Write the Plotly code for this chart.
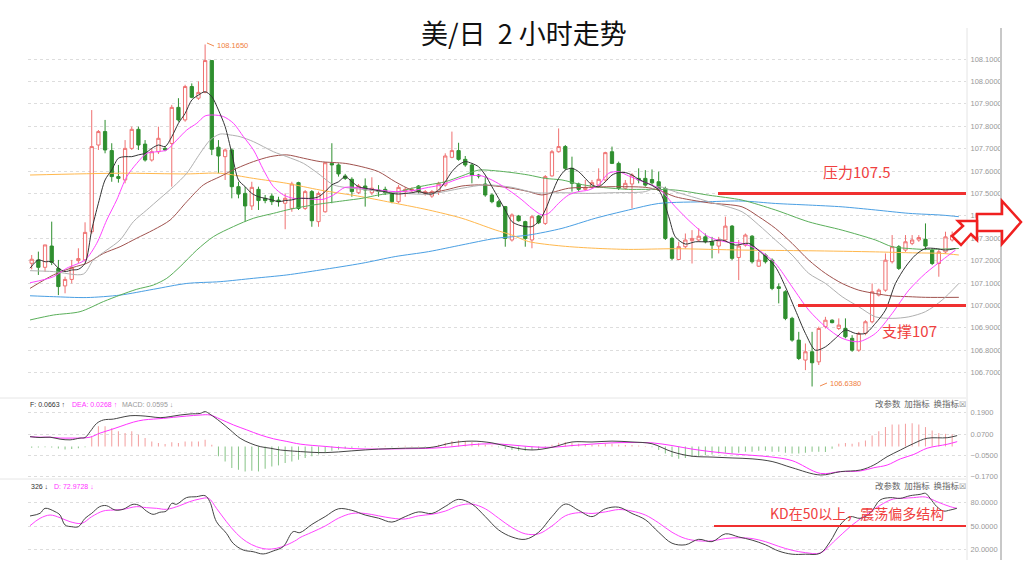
import plotly.graph_objects as go

W, H = 1024, 565

# ---------------- 2-hour candles (USD/JPY) ----------------
opens = [107.188,107.203,107.170,107.265,107.165,107.087,107.116,107.200,107.203,107.329,
         107.716,107.776,107.691,107.575,107.560,107.701,107.786,107.720,107.649,107.686,
         107.701,107.723,107.884,107.828,107.977,107.925,107.951,108.093,107.706,107.664,
         107.694,107.530,107.500,107.444,107.518,107.478,107.488,107.470,107.456,107.433,
         107.548,107.433,107.508,107.374,107.418,107.634,107.627,107.578,107.563,107.503,
         107.533,107.503,107.515,107.518,107.500,107.463,107.508,107.512,107.533,107.500,
         107.488,107.508,107.537,107.661,107.691,107.652,107.627,107.582,107.542,107.493,
         107.463,107.441,107.292,107.399,107.374,107.292,107.399,107.366,107.578,107.686,
         107.709,107.612,107.542,107.518,107.527,107.537,107.560,107.686,107.634,107.523,
         107.542,107.567,107.567,107.562,107.552,107.522,107.299,107.205,107.262,107.289,
         107.292,107.306,107.284,107.265,107.292,107.354,107.214,107.269,107.309,107.175,
         107.225,107.202,107.083,107.061,106.942,106.845,106.756,106.793,106.748,106.905,
         106.934,106.897,106.897,106.853,106.800,106.875,106.927,107.046,107.068,107.195,
         107.262,107.247,107.277,107.292,107.295,107.247,107.187,107.239,107.292]
highs = [107.225,107.240,107.270,107.374,107.203,107.128,107.203,107.255,107.371,107.872,
         107.783,107.828,107.724,107.627,107.738,107.798,107.798,107.738,107.701,107.798,
         107.710,107.895,107.925,107.985,107.991,108.000,108.165,108.093,107.738,107.701,
         107.701,107.552,107.530,107.552,107.530,107.493,107.500,107.485,107.500,107.552,
         107.552,107.515,107.515,107.508,107.637,107.724,107.634,107.587,107.572,107.542,
         107.567,107.572,107.537,107.530,107.508,107.537,107.527,107.527,107.537,107.515,
         107.515,107.552,107.679,107.776,107.726,107.667,107.634,107.587,107.575,107.500,
         107.470,107.444,107.411,107.404,107.378,107.404,107.404,107.582,107.694,107.790,
         107.716,107.664,107.548,107.560,107.560,107.612,107.686,107.709,107.642,107.560,
         107.590,107.612,107.604,107.607,107.597,107.530,107.306,107.284,107.321,107.336,
         107.344,107.321,107.306,107.306,107.396,107.359,107.292,107.321,107.314,107.239,
         107.232,107.210,107.098,107.068,106.949,106.882,106.830,106.882,106.905,106.949,
         106.938,106.942,106.942,106.867,106.882,106.934,107.098,107.075,107.232,107.314,
         107.269,107.314,107.314,107.314,107.366,107.254,107.247,107.329,107.330]
lows = [107.161,107.136,107.150,107.180,107.046,107.054,107.098,107.188,107.195,107.319,
        107.694,107.679,107.552,107.548,107.545,107.694,107.694,107.642,107.642,107.676,
        107.688,107.530,107.820,107.820,107.925,107.917,107.947,107.671,107.590,107.560,
        107.478,107.478,107.374,107.426,107.426,107.456,107.448,107.441,107.340,107.418,
        107.426,107.426,107.351,107.351,107.414,107.456,107.575,107.560,107.485,107.497,
        107.441,107.493,107.485,107.493,107.456,107.456,107.485,107.505,107.500,107.490,
        107.480,107.493,107.530,107.657,107.646,107.619,107.545,107.567,107.485,107.456,
        107.438,107.262,107.285,107.374,107.262,107.255,107.363,107.359,107.575,107.682,
        107.604,107.508,107.508,107.515,107.520,107.533,107.552,107.631,107.515,107.518,
        107.433,107.545,107.530,107.537,107.512,107.292,107.202,107.202,107.254,107.187,
        107.284,107.277,107.210,107.232,107.284,107.202,107.113,107.262,107.187,107.172,
        107.187,107.068,107.009,106.934,106.838,106.756,106.711,106.638,106.734,106.897,
        106.920,106.890,106.853,106.793,106.793,106.867,106.920,107.040,107.061,107.187,
        107.158,107.239,107.269,107.284,107.247,107.180,107.128,107.232,107.285]
closes = [107.206,107.170,107.270,107.192,107.084,107.116,107.170,107.209,107.326,107.709,
          107.776,107.694,107.575,107.567,107.701,107.786,107.716,107.649,107.686,107.746,
          107.694,107.884,107.828,107.977,107.929,107.951,108.093,107.697,107.667,107.694,
          107.530,107.497,107.444,107.527,107.468,107.468,107.463,107.463,107.478,107.542,
          107.433,107.508,107.378,107.500,107.637,107.627,107.587,107.567,107.508,107.533,
          107.515,107.523,107.508,107.503,107.463,107.527,107.518,107.518,107.508,107.508,
          107.508,107.545,107.667,107.691,107.652,107.627,107.582,107.578,107.493,107.463,
          107.441,107.299,107.404,107.378,107.299,107.396,107.369,107.575,107.686,107.709,
          107.612,107.545,107.518,107.527,107.548,107.563,107.682,107.634,107.523,107.545,
          107.582,107.560,107.537,107.547,107.515,107.299,107.210,107.262,107.292,107.299,
          107.309,107.284,107.269,107.292,107.354,107.210,107.265,107.314,107.195,107.202,
          107.195,107.076,107.076,106.942,106.845,106.763,106.793,106.744,106.897,106.934,
          106.923,106.912,106.860,106.800,106.875,106.927,107.061,107.068,107.202,107.262,
          107.165,107.284,107.292,107.303,107.265,107.187,107.239,107.306,107.314]

# ---------------- moving averages (bar index, price) ----------------
ma5_x = [-0.25,1,2,3,4,5,6,7,8,9,10,11,12,13,14,15,16,17,18,19,20,21,22,23,24,25,26,27,28,29,30,31,32,33,34,35,36,37,38,39,40,41,42,43,44,45,46,47,48,49,50,51,52,53,54,55,56,57,58,59,60,61,62,63,64,65,66,67,68,69,70,71,72,73,74,75,76,77,78,79,80,81,82,83,84,85,86,87,88,89,90,91,94,95.5,96.5,98,99.5,101.5,103.5,105.5,107.5,109.5,111.5,113,114.5,116,117.5,119,120.5,122,123.5,125,126.5,128,129.5,131,132.5,134,135.5,137,138.5]
ma5_y = [107.166,107.203,107.195,107.195,107.166,107.151,107.158,107.161,107.188,107.337,107.456,107.560,107.605,107.657,107.664,107.664,107.672,107.679,107.701,107.716,107.709,107.753,107.813,107.857,107.917,107.939,107.954,107.932,107.872,107.798,107.679,107.560,107.530,107.500,107.485,107.478,107.471,107.463,107.468,107.471,107.478,107.478,107.478,107.485,107.508,107.538,107.552,107.575,107.552,107.530,107.523,107.518,107.512,107.508,107.500,107.497,107.500,107.503,107.508,107.500,107.497,107.515,107.552,107.597,107.627,107.642,107.634,107.619,107.582,107.530,107.478,107.426,107.374,107.359,107.352,107.352,107.374,107.426,107.500,107.567,107.604,107.612,107.597,107.567,107.538,107.530,107.552,107.582,107.593,107.593,107.582,107.563,107.515,107.396,107.306,107.274,107.284,107.284,107.292,107.269,107.277,107.232,107.172,107.083,106.979,106.875,106.800,106.815,106.853,106.890,106.875,106.875,106.920,106.979,107.098,107.172,107.225,107.254,107.254,107.247,107.254]
ma10_x = [-0.25,3.25,5.25,8,9.75,11.25,12.75,14.25,15.75,17.25,18.75,20.25,21.75,23.25,24.75,26,27.25,28.75,30.25,31.75,33.25,34.75,36.25,37.75,39.25,40.75,42.25,43.75,45.25,47,49.5,52,54.5,57,59.5,61.5,63.5,65.5,67.5,69.5,71.5,73.5,75,76.5,77.5,79,80.5,82,83.5,85,86.5,88,89.5,91,94,96.5,99,101.5,104,106.5,109,111.5,114,116.5,119,121.5,124,126.5,129,131.5,134,136.5,138.5]
ma10_y = [107.101,107.128,107.166,107.203,107.277,107.381,107.471,107.575,107.634,107.679,107.686,107.694,107.738,107.783,107.813,107.846,107.850,107.843,107.813,107.753,107.694,107.605,107.530,107.493,107.478,107.478,107.474,107.474,107.493,107.527,107.523,107.515,107.508,107.512,107.527,107.538,107.560,107.578,107.578,107.552,107.515,107.471,107.433,107.404,107.411,107.456,107.493,107.508,107.515,107.538,107.590,107.597,107.578,107.560,107.522,107.440,107.366,107.306,107.284,107.277,107.247,107.187,107.083,106.979,106.905,106.853,106.838,106.875,106.964,107.068,107.143,107.202,107.247]
ma20_x = [-0.25,3.25,7.75,9.25,11.25,13.25,15.25,17.25,19.25,21.25,23.25,25.25,26.75,28.25,29.75,31.25,33.25,36.25,38.25,40.75,43.25,45.25,49.5,54.5,59.5,64.5,68,72,75.5,79.5,83.5,87,92,94,96.5,101.5,106.5,109,111.5,114,116.5,119,121.5,124,126.5,129,131.5,134,136.5,139]
ma20_y = [107.155,107.151,107.140,107.203,107.247,107.292,107.374,107.426,107.478,107.530,107.590,107.679,107.738,107.765,107.761,107.753,107.731,107.686,107.664,107.634,107.582,107.538,107.518,107.503,107.497,107.523,107.538,107.527,107.503,107.503,107.500,107.503,107.508,107.530,107.507,107.463,107.418,107.359,107.292,107.225,107.143,107.098,107.039,106.994,106.949,106.942,106.949,106.972,107.024,107.098]
ma30_x = [-0.25,3.25,6.25,8.25,10.75,13.25,15.75,18.25,20.75,23.25,25.75,28.25,30.75,33.25,35.75,38.25,40.75,43.25,47,49.5,52,54.5,57,59.5,62,64.5,67,69.5,72,74.5,76.5,78.5,80.5,83.5,87,92,94,96.5,101.5,106.5,109,111.5,114,116.5,119,121.5,124,126.5,129,131.5,134,139]
ma30_y = [107.076,107.136,107.170,107.188,107.232,107.262,107.300,107.337,107.381,107.463,107.538,107.575,107.612,107.642,107.664,107.672,107.657,107.642,107.634,107.619,107.597,107.552,107.515,107.503,107.515,107.533,107.538,107.533,107.523,107.508,107.493,107.508,107.523,107.527,107.530,107.527,107.515,107.485,107.458,107.440,107.396,107.344,107.277,107.202,107.143,107.098,107.068,107.053,107.042,107.039,107.036,107.036]
ma60_x = [-0.25,3.25,7.25,10.75,13.25,15.75,18.25,20.25,22.25,24.75,27.25,30.25,33.25,36.25,38.25,40.75,43.25,47,49.5,52,54.5,57,59.5,62,64.5,67,69.5,72,74.5,77,79.5,82,84.5,87,89.5,92,96.5,101.5,106.5,111.5,116.5,121.5,126.5,129,131.5,134,139]
ma60_y = [106.935,106.957,106.972,107.017,107.046,107.072,107.091,107.121,107.173,107.247,107.307,107.352,107.389,107.411,107.426,107.441,107.453,107.468,107.478,107.493,107.503,107.523,107.538,107.552,107.578,107.604,107.601,107.593,107.582,107.567,107.560,107.542,107.530,107.523,107.518,107.518,107.515,107.492,107.470,107.426,107.373,107.336,107.292,107.262,107.254,107.250,107.254]
ma120_x = [-0.25,13.25,23.25,28.25,33.25,38.25,43.25,49.5,54.5,59.5,64.5,69.5,72,74.5,79.5,84.5,89.5,96.5,106.5,116.5,126.5,131.5,136.5,139]
ma120_y = [107.582,107.590,107.587,107.590,107.567,107.545,107.515,107.485,107.456,107.426,107.389,107.337,107.314,107.285,107.265,107.255,107.250,107.253,107.247,107.244,107.239,107.235,107.232,107.225]
ma200_x = [-0.25,3.25,8.25,13.25,18.25,23.25,28.25,33.25,38.25,43.25,49.5,54.5,59.5,64.5,69.5,74.5,79.5,84.5,89.5,94,101.5,106.5,111.5,116.5,121.5,126.5,131.5,136.5,139]
ma200_y = [107.043,107.039,107.035,107.046,107.072,107.098,107.106,107.121,107.136,107.158,107.188,107.218,107.240,107.270,107.299,107.314,107.344,107.389,107.426,107.455,107.463,107.466,107.455,107.448,107.440,107.426,107.411,107.403,107.396]

# ---------------- MACD ----------------
macd_hist = [-0.008,-0.006,-0.005,-0.006,-0.012,-0.018,-0.015,-0.010,-0.004,
             0.056,0.113,0.113,0.103,0.085,0.075,0.085,0.066,0.047,0.028,0.019,0.013,0.024,0.019,0.028,0.028,0.028,0.038,0.009,
             -0.056,-0.085,-0.122,-0.132,-0.141,-0.137,-0.141,-0.126,-0.113,-0.107,-0.094,-0.085,-0.075,
             -0.065,-0.055,-0.045,-0.035,-0.025,-0.018,-0.012,-0.008,-0.005,-0.004,
             0.003,-0.003,0.004,-0.004,0.003,0.004,0.003,0.002,-0.003,0.002,
             0.010,0.020,0.030,0.035,0.030,0.025,0.018,0.010,0.005,-0.005,
             -0.015,-0.020,-0.025,-0.025,-0.020,-0.015,-0.005,0.010,0.020,0.025,
             0.020,0.015,0.012,0.010,0.010,0.015,0.015,0.010,0.008,0.008,
             0.005,0.003,-0.005,-0.020,-0.040,-0.060,-0.070,-0.065,-0.060,-0.055,
             -0.050,-0.045,-0.040,-0.035,-0.040,-0.035,-0.030,-0.030,-0.025,-0.025,
             -0.030,-0.030,-0.035,-0.040,-0.040,-0.035,-0.030,-0.030,
             -0.032,-0.013,
             0.015,0.019,0.015,0.024,0.034,0.062,0.086,0.109,0.124,0.124,0.128,0.131,0.124,0.109,0.090,0.075,0.071,0.068]
dif_x = [-0.25,1.25,2.75,4.25,5.75,7.25,8,8.75,9.75,10.75,12.25,13.25,14.75,16.25,17.75,19.25,20.75,22.25,23.75,25.25,26,26.75,28.25,29.75,31.25,32.75,34.25,35.75,37.25,38.75,40.25,44,48,52,56,60,63,66,69,72,75,78,81,84,87,90,93,96,99,102,105,108,111,114,118.25,121.25,124.25,126.25,128.25,130.25,132.25,134.25,137.25,138.75]
dif_y = [0.055,0.050,0.052,0.041,0.037,0.047,0.050,0.083,0.130,0.149,0.154,0.162,0.173,0.173,0.168,0.162,0.168,0.177,0.183,0.186,0.196,0.181,0.140,0.093,0.046,0.018,-0.001,-0.010,-0.020,-0.025,-0.029,-0.035,-0.025,-0.015,-0.010,-0.005,0.020,0.030,0.020,-0.005,-0.020,-0.005,0.025,0.025,0.030,0.025,0.015,-0.030,-0.055,-0.060,-0.065,-0.070,-0.085,-0.120,-0.161,-0.142,-0.133,-0.105,-0.058,-0.020,0.017,0.046,0.049,0.061]
dea_x = [-0.25,1.25,2.75,4.25,5.75,7.25,8.75,10.25,11.75,13.25,15.25,16.75,18.25,19.75,21.25,23.25,25.25,26.75,28.25,30.25,32.25,34.25,36.25,38.25,40.25,44,48,52,56,60,63,66,69,72,75,78,81,84,87,90,93,96,99,102,105,108,111,114,118.25,121.25,124.25,126.25,128.25,130.25,132.25,134.25,137.25,138.75]
dea_y = [0.055,0.052,0.052,0.047,0.047,0.047,0.052,0.075,0.093,0.112,0.137,0.149,0.154,0.158,0.164,0.171,0.177,0.177,0.154,0.121,0.093,0.065,0.043,0.028,0.013,0.000,-0.012,-0.015,-0.013,-0.010,-0.002,0.010,0.015,0.008,-0.002,-0.005,0.005,0.013,0.020,0.022,0.020,0.005,-0.015,-0.030,-0.042,-0.050,-0.060,-0.080,-0.152,-0.142,-0.138,-0.120,-0.105,-0.070,-0.045,-0.010,0.012,0.027]

# ---------------- KD ----------------
k_x = [-0.25,1.25,2,3.5,4.25,5,6,7,8,9,10.2,11.2,12.5,13.7,15.2,16.2,17.2,18.2,19.2,20.2,21,21.7,23.2,24.7,26,26.7,27.7,29.2,30.2,31.7,33.2,34.7,36.2,37.7,39.2,40.2,42,44,46,48,50,52,54,56,58,60,62,64,66,68,70,72,74,76,78,80,82,84,86,88,90,92,94,96,98,100,102,104,106,108,110,112,114,116,118.2,119.7,121.2,122.7,124.2,125.7,127.2,128.7,130.2,131.7,133.2,134,134.7,135.7,136.7,137.7,138.7]
k_y = [62.8,66.2,72.6,68.3,64.0,51.3,49.1,49.1,59.8,66.2,74.7,76.0,70.4,71.3,77.7,76.0,69.1,64.9,67.5,69.1,78.9,77.7,86.2,87.4,88.7,81.1,55.5,40.6,27.9,19.4,17.2,14.3,18.1,23.6,42.8,41.5,52,62,72,70,64,60,55,62,68,66,75,84,78,62,45,36,33,42,62,78,70,62,72,74,66,58,42,28,26,33,30,40,36,32,26,18,14,14,15.1,30.0,51.3,61.9,59.8,66.2,83.2,86.2,85.3,88.7,90.4,91.7,85.3,74.7,69.1,70.4,72.6]
d_x = [-0.25,1.25,2.75,4.25,5.75,7.5,9,10.7,12.2,13.7,15.7,17.2,18.7,20.2,22.2,23.7,25.2,26.5,27.7,29.2,30.7,32.2,33.7,35.2,36.7,38.2,39.7,40.2,42,44,46,48,50,52,54,56,58,60,62,64,66,68,70,72,74,76,78,80,82,84,86,88,90,92,94,96,98,100,102,104,106,108,110,112,114,116,118.2,120.5,122.7,124.7,127.7,129.2,130.7,132.2,134,135.7,136.7,137.7,138.7]
d_y = [50.4,59.8,64.0,60.6,55.5,53.4,61.9,69.1,70.4,71.3,74.7,73.4,72.6,71.3,76.0,81.1,84.5,85.4,72.6,55.5,40.6,30.0,23.6,20.6,21.5,25.7,32.1,35.1,42,50,60,66,66,63,60,59,63,65,69,76,78,72,60,48,40,40,50,63,67,66,68,71,69,64,54,42,34,31,31,34,35,34,30,24,19,16,15.5,32,49.1,61.9,78.9,84.5,85.4,86.2,87.0,81.1,77.7,74.7,72.6]

price_ticks = [106.7,106.8,106.9,107.0,107.1,107.2,107.3,107.4,107.5,107.6,107.7,107.8,107.9,108.0,108.1]
macd_ticks = [0.19,0.07,-0.05,-0.17]
kd_ticks = [20,50,80]

# ---------------- geometry helpers ----------------
def px(x):
    return x / W

def py(y):
    return 1 - y / H

X0, X1 = 28, 966
SP = 6.67
I0 = 31.7
xr = [(X0 - I0) / SP, (X1 - I0) / SP]

fig = go.Figure()

fig.add_trace(go.Candlestick(
    x=list(range(len(closes))), open=opens, high=highs, low=lows, close=closes,
    increasing=dict(line=dict(color='#ef7070', width=1), fillcolor='#ffffff'),
    decreasing=dict(line=dict(color='#2f8f2f', width=1), fillcolor='#2f8f2f'),
    whiskerwidth=0, showlegend=False, hoverinfo='skip', xaxis='x', yaxis='y'))

ma_specs = [
    (ma200_x, ma200_y, '#4a9fe3'),
    (ma120_x, ma120_y, '#ffb84d'),
    (ma60_x, ma60_y, '#5aaf5a'),
    (ma30_x, ma30_y, '#a0524e'),
    (ma20_x, ma20_y, '#b0b0b0'),
    (ma10_x, ma10_y, '#ff44ff'),
    (ma5_x, ma5_y, '#333333'),
]
for xs, ys, c in ma_specs:
    fig.add_trace(go.Scatter(x=xs, y=ys, mode='lines', line=dict(color=c, width=1, shape='spline', smoothing=0.8),
                             showlegend=False, hoverinfo='skip', xaxis='x', yaxis='y'))

# MACD
hx = list(range(len(macd_hist)))
fig.add_trace(go.Bar(x=hx, y=[v if v > 0 else 0 for v in macd_hist], width=0.16,
                     marker=dict(color='#f4a3a3', line=dict(width=0)), showlegend=False, hoverinfo='skip',
                     xaxis='x2', yaxis='y2'))
fig.add_trace(go.Bar(x=hx, y=[v if v < 0 else 0 for v in macd_hist], width=0.16,
                     marker=dict(color='#8cc78c', line=dict(width=0)), showlegend=False, hoverinfo='skip',
                     xaxis='x2', yaxis='y2'))
fig.add_trace(go.Scatter(x=dea_x, y=dea_y, mode='lines', line=dict(color='#ff33ff', width=1, shape='spline'),
                         showlegend=False, hoverinfo='skip', xaxis='x2', yaxis='y2'))
fig.add_trace(go.Scatter(x=dif_x, y=dif_y, mode='lines', line=dict(color='#444444', width=1, shape='spline'),
                         showlegend=False, hoverinfo='skip', xaxis='x2', yaxis='y2'))

# KD
fig.add_trace(go.Scatter(x=d_x, y=d_y, mode='lines', line=dict(color='#ff44ff', width=1, shape='spline'),
                         showlegend=False, hoverinfo='skip', xaxis='x3', yaxis='y3'))
fig.add_trace(go.Scatter(x=k_x, y=k_y, mode='lines', line=dict(color='#444444', width=1, shape='spline'),
                         showlegend=False, hoverinfo='skip', xaxis='x3', yaxis='y3'))

tickfont = dict(family='Liberation Sans, Arial, sans-serif', size=7.5, color='#999999')
xdom = [px(X0), px(X1)]

def xax(anchor):
    return dict(domain=xdom, range=xr, visible=False, anchor=anchor, fixedrange=True)

def yax(domain, rng, tv, tt):
    return dict(domain=domain, range=rng, side='right', tickvals=tv, ticktext=tt, tickfont=tickfont,
                showgrid=True, gridcolor='#dddddd', griddash='dot', gridwidth=1, zeroline=False,
                showline=False, ticks='outside', ticklen=2, tickcolor='rgba(0,0,0,0)', fixedrange=True)

main_rng = [108.3634 - 395 / 224, 108.3634 - 30 / 224]
macd_rng = [0.07 - (480 - 434) / 177.5, 0.07 - (399 - 434) / 177.5]
kd_rng = [50 - (560 - 526) / 0.7833, 50 - (481 - 526) / 0.7833]

fig.update_layout(
    width=W, height=H, margin=dict(l=0, r=0, t=0, b=0),
    paper_bgcolor='white', plot_bgcolor='white', barmode='overlay', showlegend=False,
    xaxis=dict(**xax('y'), rangeslider=dict(visible=False)),
    xaxis2=dict(**xax('y2'), matches='x'),
    xaxis3=dict(**xax('y3'), matches='x'),
    yaxis=yax([py(395), py(30)], main_rng, price_ticks, ['%.4f' % v for v in price_ticks]),
    yaxis2=yax([py(480), py(399)], macd_rng, macd_ticks, ['0.1900', '0.0700', '\u22120.0500', '\u22120.1700']),
    yaxis3=yax([py(560), py(481)], kd_rng, kd_ticks, ['20.0000', '50.0000', '80.0000']),
)

shapes = []
shapes.append(dict(type='line', xref='paper', yref='paper', x0=px(0), x1=px(966), y0=py(398), y1=py(398),
                   line=dict(color='#e6e6e6', width=1)))
shapes.append(dict(type='line', xref='paper', yref='paper', x0=px(0), x1=px(966), y0=py(479), y1=py(479),
                   line=dict(color='#e6e6e6', width=1)))
shapes.append(dict(type='line', xref='paper', yref='paper', x0=px(967), x1=px(967), y0=py(28), y1=py(560),
                   line=dict(color='#e4e4e4', width=1)))
shapes.append(dict(type='line', xref='paper', yref='paper', x0=px(1001), x1=px(1001), y0=py(28), y1=py(560),
                   line=dict(color='#c8c8c8', width=2)))
shapes.append(dict(type='line', xref='paper', yref='y', x0=px(718), x1=px(966), y0=107.5, y1=107.5,
                   line=dict(color='#f03030', width=3)))
shapes.append(dict(type='line', xref='paper', yref='y', x0=px(798), x1=px(966), y0=107.0, y1=107.0,
                   line=dict(color='#f03030', width=3)))
shapes.append(dict(type='line', xref='paper', yref='y3', x0=px(714), x1=px(966), y0=50, y1=50,
                   line=dict(color='#f03030', width=2)))

def path(pts):
    return 'M ' + ' L '.join('%.5f,%.5f' % (px(a), py(b)) for a, b in pts) + ' Z'

right_arrow = [(977, 214), (1002, 214), (1002, 201), (1021, 222), (1002, 244), (1002, 231), (977, 231)]
diag_arrow = [(958, 221), (977, 221), (977, 240), (971, 234), (961, 245), (952, 236), (963, 226)]
for pts in (right_arrow, diag_arrow):
    shapes.append(dict(type='path', xref='paper', yref='paper', path=path(pts),
                       line=dict(color='#f02020', width=2.5), fillcolor='white'))
shapes.append(dict(type='line', xref='paper', yref='paper', x0=px(207), x1=px(214), y0=py(43), y1=py(46),
                   line=dict(color='#f08a50', width=1)))
shapes.append(dict(type='line', xref='paper', yref='paper', x0=px(820), x1=px(827), y0=py(386), y1=py(383),
                   line=dict(color='#f08a50', width=1)))

ann = []
def text(x, y, s, size=9, color='#333', anchor='left', family='Noto Sans CJK SC, sans-serif'):
    ann.append(dict(x=px(x), y=py(y), xref='paper', yref='paper', text=s, showarrow=False,
                    xanchor=anchor, yanchor='middle', font=dict(size=size, color=color, family=family)))

sans = 'Liberation Sans, Arial, sans-serif'
text(524, 32, '美/日\u00a0\u00a02\u00a0小时走势', size=27, color='#111111', anchor='center')
text(215, 46, '108.1650', size=7.5, color='#f08040', family=sans)
text(828, 383, '106.6380', size=7.5, color='#f08040', family=sans)
text(856, 172, '压力107.5', size=15, color='#f04040', anchor='center')
text(909, 330, '支撑107', size=15, color='#f04040', anchor='center')
text(857, 513, 'KD在50以上，震荡偏多结构', size=14, color='#f04040', anchor='center')
text(28, 404, 'F: 0.0663 \u2191', size=7, color='#333333', family=sans)
text(70, 404, 'DEA: 0.0268 \u2191', size=7, color='#ff33ff', family=sans)
text(120, 404, 'MACD: 0.0595 \u2193', size=7, color='#999999', family=sans)
text(29, 486, '326 \u2193', size=7, color='#333333', family=sans)
text(52, 486, 'D: 72.9728 \u2193', size=7, color='#ff33ff', family=sans)
for yy in (403, 485):
    text(873, yy, '改参数  加指标  换指标', size=8.5, color='#666666')
    text(962, yy, '\u2612', size=8, color='#888888', anchor='center')

fig.update_layout(shapes=shapes, annotations=ann)
fig.write_html('out.html', config={'displayModeBar': False, 'staticPlot': True},
               post_script="document.body.style.margin='0px';document.body.style.padding='0px';")
